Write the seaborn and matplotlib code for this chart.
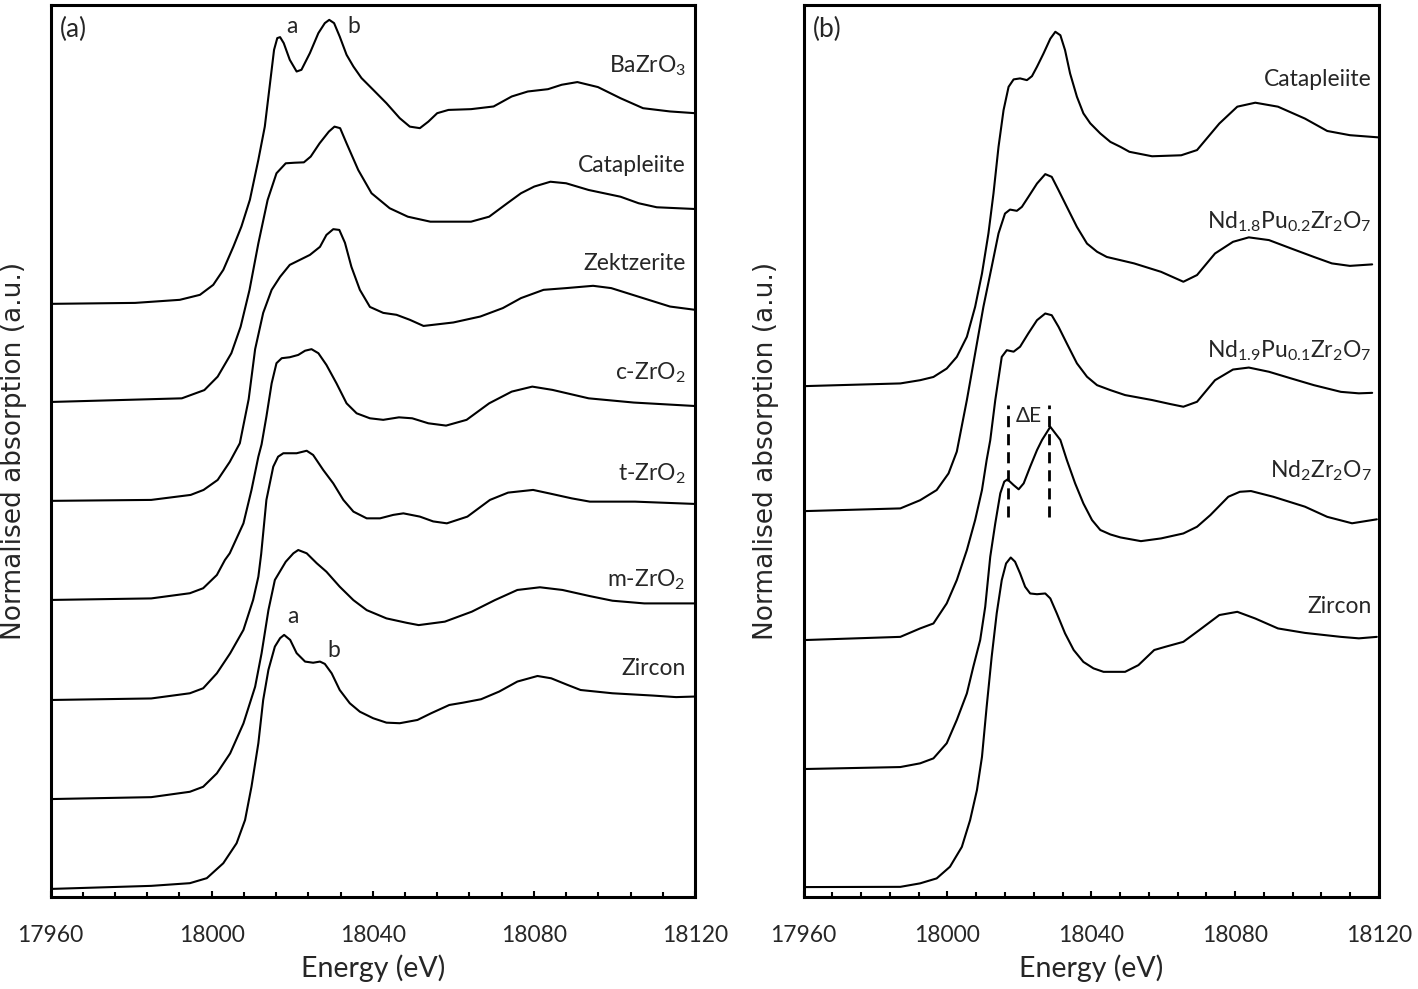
import numpy as np
import pandas as pd
import matplotlib
matplotlib.use("Agg")
import matplotlib.pyplot as plt
import seaborn as sns
from matplotlib.ticker import MultipleLocator

# ---------------- data : panel (a) ----------------
E_BaZrO3 = [17960, 17981, 17992.1, 17997.1, 18000.4, 18002.9, 18005.4, 18007.4, 18009.5, 18011.6, 18013.2,
            18014.5, 18015.5, 18016.3, 18017.0, 18017.9, 18019.4, 18021.1, 18022.3, 18024.4, 18026.5, 18028.1,
            18029.2, 18030.4, 18031.8, 18033.5, 18035.2, 18037.2, 18040.1, 18043.4, 18046.7, 18049.2, 18051.7,
            18053.8, 18056.0, 18058.8, 18064.4, 18070.0, 18074.5, 18078.5, 18083.5, 18086.9, 18090.8, 18095.9,
            18101.5, 18107.1, 18113.8, 18120]
MU_BaZrO3 = [0, 0.005, 0.021, 0.047, 0.099, 0.177, 0.298, 0.403, 0.542, 0.75, 0.923,
             1.149, 1.323, 1.384, 1.389, 1.358, 1.271, 1.21, 1.219, 1.306, 1.41, 1.462,
             1.479, 1.462, 1.392, 1.297, 1.236, 1.176, 1.115, 1.045, 0.967, 0.923, 0.915,
             0.949, 0.993, 1.01, 1.014, 1.028, 1.08, 1.106, 1.118, 1.141, 1.155, 1.129,
             1.071, 1.019, 1.002, 0.993]

E_Catap_a = [17960, 17992.6, 17998.2, 18001.5, 18004.9, 18007.2, 18009.4, 18011.6, 18013.9, 18016.1, 18018.4,
             18020.6, 18022.9, 18024.6, 18026.8, 18029.1, 18030.5, 18031.9, 18033.5, 18036.4, 18039.7, 18044.2,
             18048.7, 18054.3, 18064.4, 18068.9, 18073.4, 18076.8, 18080.1, 18084.1, 18088.0, 18093.6, 18101.5,
             18106.0, 18110.5, 18120]
MU_Catap_a = [0, 0.019, 0.062, 0.132, 0.254, 0.392, 0.583, 0.826, 1.052, 1.191, 1.243,
              1.246, 1.248, 1.278, 1.347, 1.408, 1.434, 1.426, 1.347, 1.208, 1.087, 1.009,
              0.965, 0.939, 0.939, 0.965, 1.035, 1.087, 1.122, 1.147, 1.139, 1.104, 1.069,
              1.035, 1.014, 1.005]

E_Zektz = [17960, 17985, 17994.8, 17998, 18001.5, 18004.5, 18007, 18009.2, 18010.8, 18012.8, 18014.9,
           18017.0, 18019.4, 18021.9, 18024.4, 18026.9, 18028.5, 18030.2, 18031.7, 18033.1, 18034.7, 18036.8,
           18039.3, 18042.6, 18045.9, 18049.2, 18052.6, 18060, 18066.7, 18072.3, 18076.8, 18082.4, 18088.0,
           18094.7, 18099.2, 18107.1, 18113.8, 18120]
MU_Zektz = [0, 0.005, 0.031, 0.057, 0.109, 0.203, 0.30, 0.53, 0.79, 0.979, 1.099,
            1.167, 1.229, 1.255, 1.281, 1.323, 1.385, 1.415, 1.411, 1.344, 1.219, 1.099,
            1.010, 0.979, 0.969, 0.943, 0.911, 0.929, 0.960, 1.004, 1.056, 1.099, 1.108,
            1.120, 1.108, 1.056, 1.012, 0.995]

E_cZrO2 = [17960, 17985, 17994.6, 17997.9, 18001.3, 18003.3, 18004.5, 18007.9, 18009.9, 18011.6, 18012.4,
           18013.6, 18014.9, 18016.1, 18017.4, 18019.4, 18021.5, 18023.2, 18024.8, 18026.5, 18028.5, 18031.0,
           18033.5, 18036.0, 18039.3, 18042.6, 18046.5, 18049.8, 18053.8, 18058.2, 18063.3, 18068.9, 18074.5,
           18079.6, 18084.6, 18093.6, 18104.8, 18120]
MU_cZrO2 = [0, 0.008, 0.035, 0.061, 0.130, 0.208, 0.243, 0.399, 0.573, 0.746, 0.81,
            0.955, 1.128, 1.233, 1.259, 1.264, 1.276, 1.298, 1.306, 1.285, 1.224, 1.128,
            1.024, 0.972, 0.946, 0.938, 0.951, 0.946, 0.920, 0.908, 0.938, 1.024, 1.085,
            1.111, 1.094, 1.050, 1.028, 1.010]

E_tZrO2 = [17960, 17985, 17994.6, 17997.9, 18001.3, 18004.6, 18007.9, 18010.3, 18011.6, 18012.3, 18013.6,
           18015.3, 18016.5, 18017.8, 18021.1, 18023.6, 18025.2, 18027.7, 18030.2, 18032.7, 18035.2, 18038.5,
           18041.8, 18045.1, 18047.6, 18051.7, 18055, 18058.4, 18063.5, 18069.1, 18073.6, 18079.8, 18083.8,
           18089.4, 18093.9, 18105.1, 18120]
MU_tZrO2 = [0, 0.008, 0.035, 0.061, 0.139, 0.243, 0.365, 0.521, 0.642, 0.76, 1.042,
            1.215, 1.267, 1.285, 1.285, 1.298, 1.276, 1.198, 1.128, 1.042, 0.981, 0.946,
            0.946, 0.964, 0.972, 0.955, 0.93, 0.920, 0.955, 1.042, 1.080, 1.094, 1.076,
            1.050, 1.033, 1.033, 1.021]

E_mZrO2 = [17960, 17985, 17994.6, 17997.9, 18001.3, 18004.6, 18007.9, 18010.8, 18012.4, 18014.1, 18015.7,
           18018.4, 18020.3, 18021.5, 18023.6, 18026.1, 18028.5, 18031.8, 18035.2, 18038.5, 18043.4, 18048.4,
           18051.4, 18057.9, 18064.6, 18070.3, 18075.9, 18081.5, 18087.1, 18093.9, 18099.5, 18107.4, 18120]
MU_mZrO2 = [0, 0.01, 0.038, 0.064, 0.134, 0.238, 0.394, 0.585, 0.759, 0.984, 1.141,
            1.236, 1.280, 1.297, 1.280, 1.228, 1.184, 1.106, 1.036, 0.984, 0.941, 0.918,
            0.906, 0.924, 0.976, 1.036, 1.089, 1.103, 1.089, 1.057, 1.033, 1.019, 1.019]

E_Zircon_a = [17960, 17985, 17994.6, 17998.8, 18002.9, 18006.2, 18008.3, 18009.9, 18011.6, 18012.8, 18014.1,
              18015.7, 18017.0, 18018.0, 18019.5, 18021.1, 18023.2, 18025.2, 18026.9, 18028.1, 18029.8, 18031.8,
              18034.3, 18036.8, 18040.1, 18043.4, 18046.7, 18051.1, 18054.5, 18059.0, 18062.4, 18066.9, 18071.4,
              18075.9, 18080.9, 18084.3, 18088.3, 18091.6, 18099.5, 18109.6, 18115.3, 18120]
MU_Zircon_a = [0, 0.016, 0.030, 0.056, 0.134, 0.238, 0.359, 0.533, 0.759, 0.984, 1.141,
               1.262, 1.306, 1.323, 1.297, 1.228, 1.184, 1.178, 1.184, 1.172, 1.123, 1.036,
               0.967, 0.923, 0.889, 0.866, 0.863, 0.880, 0.915, 0.958, 0.970, 0.988, 1.028,
               1.080, 1.109, 1.097, 1.063, 1.036, 1.019, 1.007, 0.999, 1.002]

labels_a = ["BaZrO$_3$", "Catapleiite", "Zektzerite", "c-ZrO$_2$", "t-ZrO$_2$", "m-ZrO$_2$", "Zircon"]
offsets_a = [3.089, 2.578, 2.063, 1.547, 1.026, 0.510, 0.042]
label_y_a = [4.292, 3.776, 3.266, 2.693, 2.172, 1.615, 1.156]

# ---------------- data : panel (b) ----------------
E_Catap_b = [17960, 17986.9, 17992.4, 17996.1, 17999.8, 18002.6, 18005.4, 18007.7, 18009.6, 18011.4, 18012.8,
             18014.2, 18015.6, 18017.0, 18018.4, 18020.2, 18022.1, 18023.5, 18024.9, 18026.7, 18028.6, 18030.0,
             18031.4, 18032.7, 18034.1, 18036.0, 18037.8, 18039.7, 18042.5, 18045.3, 18048.1, 18050.6, 18056.9,
             18065, 18069.4, 18075.6, 18080.6, 18085.6, 18091.9, 18099.4, 18105.6, 18111.9, 18120]
MU_Catap_b = [0, 0.011, 0.024, 0.037, 0.071, 0.118, 0.199, 0.320, 0.454, 0.616, 0.777,
              0.965, 1.113, 1.207, 1.237, 1.241, 1.234, 1.250, 1.288, 1.341, 1.401, 1.429,
              1.415, 1.355, 1.261, 1.167, 1.100, 1.060, 1.019, 0.985, 0.965, 0.945, 0.927,
              0.931, 0.952, 1.059, 1.127, 1.143, 1.127, 1.079, 1.029, 1.012, 1.003]

E_Nd18 = [17960, 17986.9, 17992.4, 17997.0, 18000.3, 18002.6, 18005.4, 18007.7, 18010.0, 18012.3, 18014.2,
          18016.0, 18017.4, 18019.3, 18020.7, 18022.5, 18024.9, 18027.2, 18029.0, 18030.9, 18033.2, 18036.0,
          18038.8, 18041.6, 18044.3, 18048.1, 18051.9, 18059.4, 18065.6, 18069.4, 18074.4, 18079.4, 18083.8,
          18089.4, 18095.6, 18101.9, 18106.9, 18111.9, 18118.1]
MU_Nd18 = [0, 0.011, 0.044, 0.085, 0.152, 0.24, 0.448, 0.636, 0.824, 0.985, 1.120,
           1.200, 1.216, 1.211, 1.227, 1.267, 1.321, 1.359, 1.348, 1.294, 1.227, 1.146,
           1.079, 1.046, 1.025, 1.012, 0.999, 0.965, 0.925, 0.952, 1.039, 1.086, 1.104,
           1.093, 1.059, 1.025, 0.999, 0.989, 0.995]

E_Nd19 = [17960, 17986.9, 17992.4, 17996.1, 17999.8, 18002.6, 18005.4, 18007.7, 18009.6, 18010.9, 18011.9,
          18013.3, 18015.1, 18016.5, 18018.4, 18020.2, 18022.5, 18024.9, 18027.2, 18029.0, 18030.9, 18033.2,
          18036.0, 18038.8, 18041.6, 18045.3, 18049.4, 18056.9, 18061.9, 18065.6, 18069.4, 18074.4, 18079.4,
          18083.8, 18089.4, 18095.6, 18101.9, 18109.4, 18114.4, 18118.1]
MU_Nd19 = [0, 0.013, 0.047, 0.067, 0.148, 0.242, 0.363, 0.484, 0.605, 0.726, 0.806,
           0.968, 1.142, 1.169, 1.163, 1.183, 1.237, 1.290, 1.317, 1.310, 1.263, 1.196,
           1.116, 1.062, 1.028, 1.008, 0.988, 0.968, 0.952, 0.941, 0.961, 1.048, 1.091,
           1.099, 1.082, 1.055, 1.028, 1.001, 0.995, 0.997]

E_Nd2 = [17960, 17986.9, 17992.4, 17996.1, 17999.8, 18002.6, 18005.4, 18007.2, 18009.1, 18010.5, 18011.9,
         18013.3, 18014.7, 18015.8, 18016.7, 18018.4, 18019.8, 18021.2, 18023.0, 18024.9, 18026.3, 18028.6,
         18031.4, 18033.2, 18035.5, 18037.8, 18040.2, 18042.5, 18045.3, 18048.1, 18053.8, 18059.4, 18065.6,
         18069.4, 18073.1, 18078.1, 18081.3, 18084.4, 18090.6, 18099.4, 18105.6, 18112.5, 18119.4]
MU_Nd2 = [0, 0.008, 0.023, 0.043, 0.104, 0.198, 0.305, 0.413, 0.520, 0.654, 0.856,
          0.991, 1.112, 1.159, 1.168, 1.145, 1.128, 1.152, 1.219, 1.286, 1.327, 1.380,
          1.327, 1.246, 1.152, 1.071, 1.004, 0.964, 0.946, 0.934, 0.919, 0.930, 0.950,
          0.977, 1.024, 1.098, 1.118, 1.121, 1.098, 1.058, 1.017, 0.991, 1.007]

E_Zircon_b = [17960, 17986.9, 17992.4, 17997.0, 18000.7, 18004.0, 18006.3, 18008.2, 18009.6, 18010.9, 18012.3,
              18013.7, 18015.1, 18016.3, 18017.6, 18018.8, 18020.2, 18021.6, 18023.0, 18024.9, 18027.2, 18028.6,
              18030.4, 18032.7, 18035.1, 18037.8, 18040.6, 18043.4, 18049.4, 18053.1, 18057.5, 18060.6, 18065.6,
              18070.0, 18075.6, 18080.6, 18085.6, 18091.9, 18099.4, 18109.4, 18114.4, 18119.4]
MU_Zircon_b = [0, 0.001, 0.015, 0.035, 0.082, 0.162, 0.270, 0.391, 0.525, 0.727, 0.929,
               1.104, 1.238, 1.305, 1.329, 1.312, 1.265, 1.211, 1.184, 1.181, 1.184, 1.164,
               1.104, 1.023, 0.956, 0.908, 0.882, 0.868, 0.868, 0.895, 0.956, 0.969, 0.989,
               1.036, 1.097, 1.110, 1.083, 1.043, 1.025, 1.009, 1.003, 1.009]

labels_b = ["Catapleiite", "Nd$_{1.8}$Pu$_{0.2}$Zr$_2$O$_7$", "Nd$_{1.9}$Pu$_{0.1}$Zr$_2$O$_7$",
            "Nd$_2$Zr$_2$O$_7$", "Zircon"]
offsets_b = [2.060, 1.556, 1.036, 0.516, 0.040]
label_y_b = [3.270, 2.698, 2.177, 1.694, 1.145]

deltaE_lines = [18016.9, 18028.3]      # peak positions marked in (b)

x_ticks = [17960, 18000, 18040, 18080, 18120]

# ---------------- style ----------------
sns.set_style("white")
plt.rcParams["font.family"] = ["Lato", "DejaVu Sans"]
plt.rcParams["mathtext.fontset"] = "custom"
plt.rcParams["mathtext.rm"] = "Lato"
plt.rcParams["mathtext.it"] = "Lato:italic"
plt.rcParams["mathtext.bf"] = "Lato:bold"

fig = plt.figure(figsize=(14.18, 9.89), dpi=100)
axA = fig.add_axes([50.5 / 1418, 1 - 897 / 989, 644.5 / 1418, 892.5 / 989])
axB = fig.add_axes([803.6 / 1418, 1 - 897 / 989, 575.4 / 1418, 892.5 / 989])


def make_df(series, labels, offsets):
    frames = []
    for (E, mu), lab, off in zip(series, labels, offsets):
        frames.append(pd.DataFrame({"E": E, "y": np.asarray(mu) + off, "sample": lab}))
    return pd.concat(frames, ignore_index=True)


df_a = make_df([(E_BaZrO3, MU_BaZrO3), (E_Catap_a, MU_Catap_a), (E_Zektz, MU_Zektz),
                (E_cZrO2, MU_cZrO2), (E_tZrO2, MU_tZrO2), (E_mZrO2, MU_mZrO2),
                (E_Zircon_a, MU_Zircon_a)], labels_a, offsets_a)
df_b = make_df([(E_Catap_b, MU_Catap_b), (E_Nd18, MU_Nd18), (E_Nd19, MU_Nd19),
                (E_Nd2, MU_Nd2), (E_Zircon_b, MU_Zircon_b)], labels_b, offsets_b)

for ax, df, ytop in [(axA, df_a, 4.648), (axB, df_b, 3.599)]:
    sns.lineplot(data=df, x="E", y="y", units="sample", estimator=None, sort=False,
                 color="black", linewidth=1.5, ax=ax, legend=False,
                 solid_joinstyle="round", solid_capstyle="round")
    ax.set_xlim(17960, 18120)
    ax.set_ylim(0, ytop)
    ax.set_yticks([])
    ax.set_xticks(x_ticks)
    ax.xaxis.set_minor_locator(MultipleLocator(8))
    ax.tick_params(axis="x", which="both", direction="in", bottom=True, top=False,
                   width=1.5, color="black", labelsize=16.5, pad=20)
    ax.tick_params(axis="x", which="major", length=4.2)
    ax.tick_params(axis="x", which="minor", length=3.8)
    for s in ax.spines.values():
        s.set_visible(True)
        s.set_color("black")
        s.set_linewidth(2.2)
    ax.set_xlabel("Energy (eV)", fontsize=20.5, labelpad=6)
    ax.set_ylabel("")

# y labels
for xc in [14, 766]:
    fig.text(xc / 1418, 1 - 451 / 989, "Normalised absorption (a.u.)", rotation=90,
             ha="center", va="center", fontsize=19, family=["DejaVu Sans"])

# curve labels
for lab, yy in zip(labels_a, label_y_a):
    axA.text(18117.7, yy, lab, ha="right", va="baseline", fontsize=16.5)
for lab, yy in zip(labels_b, label_y_b):
    axB.text(18118.0, yy, lab, ha="right", va="baseline", fontsize=16.5)

# peak annotations in (a)
axA.text(18019.9, 4.50, "a", ha="center", va="baseline", fontsize=16.5)
axA.text(18035.4, 4.50, "b", ha="center", va="baseline", fontsize=16.5)
axA.text(18020.1, 1.427, "a", ha="center", va="baseline", fontsize=16.5)
axA.text(18030.3, 1.252, "b", ha="center", va="baseline", fontsize=16.5)

# panel labels
axA.text(0.014, 0.9725, "(a)", transform=axA.transAxes, ha="left", va="center", fontsize=19)
axB.text(0.0156, 0.9725, "(b)", transform=axB.transAxes, ha="left", va="center", fontsize=19)

# delta E marker in (b)
axB.vlines(deltaE_lines, 1.533, 1.984, colors="black", linewidth=2.0, linestyles=(0, (4, 2.5)))
axB.text(18022.7, 1.917, "ΔE", ha="center", va="baseline", fontsize=15, family=["Lato", "DejaVu Sans"])

fig.savefig("out.png", dpi=100)
